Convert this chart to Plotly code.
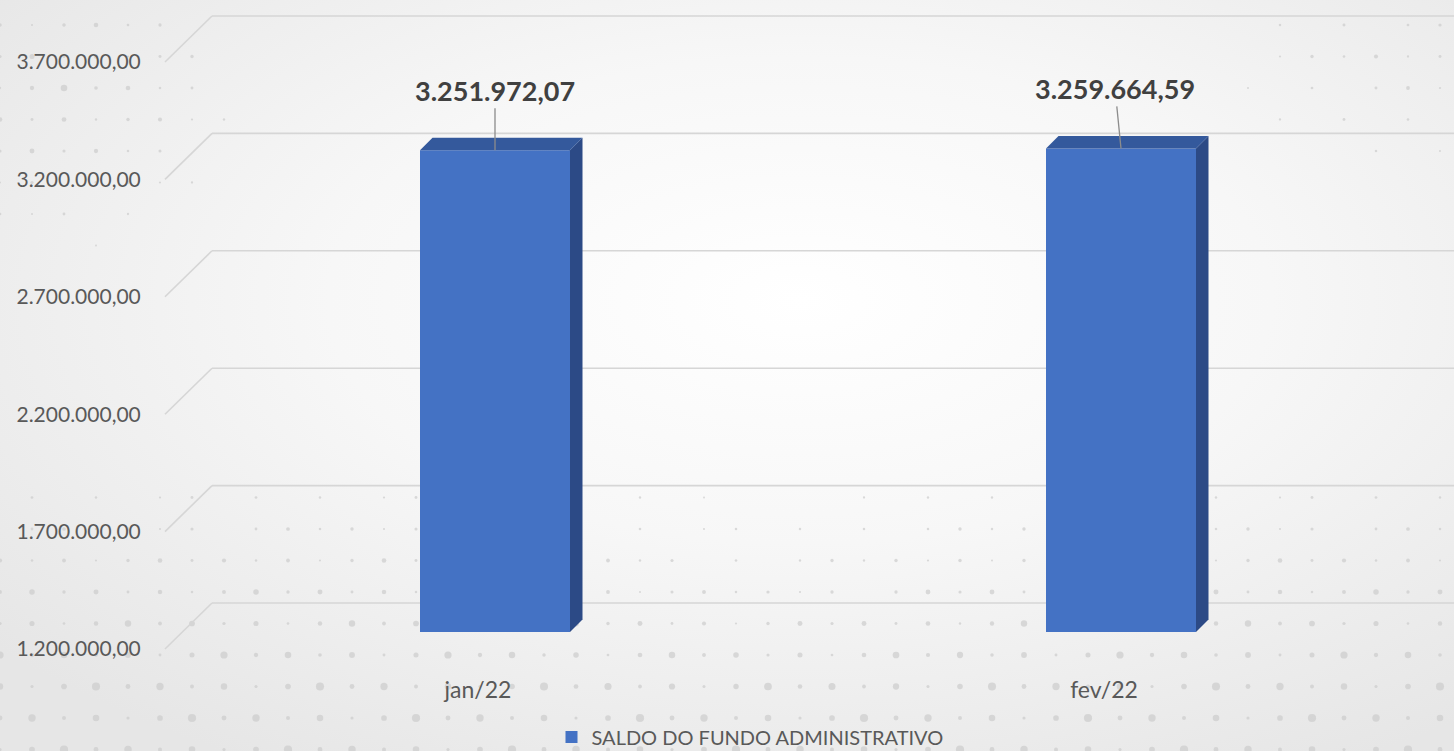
import base64
import math
import plotly.graph_objects as go

# ---------------- data ----------------
categories = ["jan/22", "fev/22"]
saldo = [3251972.07, 3259664.59]
series_name = "SALDO DO FUNDO ADMINISTRATIVO"
y_ticks = [1200000, 1700000, 2200000, 2700000, 3200000, 3700000]

# ---------------- geometry / style ----------------
W, H = 1454, 751
Y_MIN, Y_MAX = 1200000, 3700000
FX0, FX1 = 165, 1417          # front plane (labels) x extent in px
FY_BOT, FY_TOP = 649, 62      # front plane y of Y_MIN / Y_MAX in px
BAR_DX, BAR_DY = 17, 17       # bar plane offset (perspective)
WALL_DX, WALL_DY = 47, 46     # back wall offset
BAR_DEPTH = 12.5              # px depth of bars
BAR_W_PX = 150

FRONT = "#4472C4"
TOP = "#34599C"
SIDE = "#2C4A86"
GRID = "#D6D6D6"
TXT = "#595959"
FONT = "Lato, 'Open Sans', sans-serif"


def px(x):
    return x / W


def py(y):
    return 1 - y / H


def clamp(t):
    return min(max(t, 0.0), 1.0)


n = len(categories)
idx = list(range(n))
unit_x = (FX1 - FX0) / n                      # px per category unit
unit_y = (FY_BOT - FY_TOP) / (Y_MAX - Y_MIN)  # px per value unit
bar_w = BAR_W_PX / unit_x
dx_u = BAR_DEPTH / unit_x
dy_u = BAR_DEPTH / unit_y


def fmt_br(v):
    s = f"{v:,.2f}"
    return s.replace(",", "X").replace(".", ",").replace("X", ".")


# ---------------- background (gradient + dots) ----------------
dots = []
row_y = [655 - 31.5 * k for k in range(-3, 22)]
for i, yy in enumerate(row_y):
    for j in range(0, 47):
        xx = 32 * j
        s_bottom = clamp((yy - 430) / 260) * (1 - 0.5 * clamp(1 - abs(xx - 760) / 260) * clamp((700 - yy) / 120))
        s_tl = 0.8 * clamp(1 - math.hypot(xx - 60, (yy - 90) * 1.2) / 230)
        s_tr = 0.5 * clamp(1 - math.hypot(xx - 1380, (yy - 60) * 1.3) / 200)
        s = max(s_bottom, s_tl, s_tr)
        var = ((i * 37 + j * 17) % 7) / 6
        r = 0.5 + 3.6 * s * (0.3 + 0.7 * var)
        if r > 1.0:
            dots.append(f'<circle cx="{xx}" cy="{yy:.1f}" r="{r:.2f}" fill="#cccccc" fill-opacity="0.7"/>')
svg = (
    f'<svg xmlns="http://www.w3.org/2000/svg" width="{W}" height="{H}" viewBox="0 0 {W} {H}">'
    '<defs><radialGradient id="g" cx="0.55" cy="0.4" r="0.72">'
    '<stop offset="0" stop-color="#ffffff"/><stop offset="0.45" stop-color="#f7f7f7"/>'
    '<stop offset="1" stop-color="#e6e6e6"/></radialGradient></defs>'
    f'<rect width="{W}" height="{H}" fill="url(#g)"/>' + "".join(dots) + "</svg>"
)
bg_src = "data:image/svg+xml;base64," + base64.b64encode(svg.encode()).decode()

fig = go.Figure()

# front faces
fig.add_trace(go.Bar(
    x=idx, y=saldo, width=bar_w, name=series_name,
    marker=dict(color=FRONT, line=dict(width=0)),
    xaxis="x2", yaxis="y2", showlegend=True, hoverinfo="skip",
))

# side and top faces
for i, v in zip(idx, saldo):
    xl, xr = i - bar_w / 2, i + bar_w / 2
    fig.add_trace(go.Scatter(
        x=[xr, xr, xr + dx_u, xr + dx_u, xr],
        y=[Y_MIN, v, v + dy_u, Y_MIN + dy_u, Y_MIN],
        mode="lines", fill="toself", fillcolor=SIDE, line=dict(width=0, color=SIDE),
        xaxis="x2", yaxis="y2", showlegend=False, hoverinfo="skip",
    ))
    fig.add_trace(go.Scatter(
        x=[xl, xr, xr + dx_u, xl + dx_u, xl],
        y=[v, v, v + dy_u, v + dy_u, v],
        mode="lines", fill="toself", fillcolor=TOP, line=dict(width=0, color=TOP),
        xaxis="x2", yaxis="y2", showlegend=False, hoverinfo="skip",
    ))

# invisible trace to anchor front axes
fig.add_trace(go.Scatter(x=idx, y=[Y_MIN] * n, mode="markers", marker=dict(opacity=0),
                         xaxis="x", yaxis="y", showlegend=False, hoverinfo="skip"))

# gridlines (front diagonal + back wall)
shapes = []
for v in y_ticks:
    yf = FY_BOT - (v - Y_MIN) * unit_y
    yb = yf - WALL_DY
    xb = FX0 + WALL_DX
    shapes.append(dict(type="line", xref="paper", yref="paper", layer="below",
                       x0=px(FX0), y0=py(yf), x1=px(xb), y1=py(yb),
                       line=dict(color=GRID, width=1.6)))
    shapes.append(dict(type="line", xref="paper", yref="paper", layer="below",
                       x0=px(xb), y0=py(yb), x1=1, y1=py(yb),
                       line=dict(color=GRID, width=1.6)))

# data labels
label_ax = [0, -6]
annotations = []
for i, v, ax in zip(idx, saldo, label_ax):
    annotations.append(dict(
        x=i, y=v, xref="x2", yref="y2", text=fmt_br(v),
        showarrow=True, arrowhead=0, arrowwidth=1.3, arrowcolor="#8C8C8C",
        ax=ax, ay=-60, standoff=0,
        font=dict(family=FONT, size=27, color="#404040", weight="bold"),
    ))

fig.update_layout(
    width=W, height=H, autosize=False,
    margin=dict(l=0, r=0, t=0, b=0, pad=0, autoexpand=False),
    paper_bgcolor="#eeeeee", plot_bgcolor="rgba(0,0,0,0)",
    separators=",.",
    font=dict(family=FONT, color=TXT),
    images=[dict(source=bg_src, xref="paper", yref="paper", x=0, y=1, sizex=1, sizey=1,
                 sizing="stretch", layer="below", xanchor="left", yanchor="top")],
    shapes=shapes,
    annotations=annotations,
    xaxis=dict(domain=[px(FX0), px(FX1)], range=[-0.5, n - 0.5], anchor="y",
               tickvals=idx, ticktext=categories, showgrid=False, zeroline=False,
               showline=False, ticks="outside", ticklen=20, tickcolor="rgba(0,0,0,0)",
               tickfont=dict(family=FONT, size=23, color=TXT)),
    yaxis=dict(domain=[py(FY_BOT), py(FY_TOP)], range=[Y_MIN, Y_MAX], anchor="x",
               tickvals=y_ticks, tickformat=",.2f", showgrid=False, zeroline=False,
               showline=False, ticks="outside", ticklen=19, tickcolor="rgba(0,0,0,0)",
               tickfont=dict(family=FONT, size=21, color=TXT)),
    xaxis2=dict(domain=[px(FX0 + BAR_DX), px(FX1 + BAR_DX)], range=[-0.5, n - 0.5],
                anchor="y2", visible=False),
    yaxis2=dict(domain=[py(FY_BOT - BAR_DY), py(FY_TOP - BAR_DY)], range=[Y_MIN, Y_MAX],
                anchor="x2", visible=False),
    legend=dict(orientation="h", x=px(750), xanchor="center", y=py(737), yanchor="middle",
                bgcolor="rgba(0,0,0,0)", font=dict(family=FONT, size=20, color=TXT),
                itemclick=False, itemdoubleclick=False),
    showlegend=True,
)

fig.write_html("out.html", config={"displayModeBar": False},
               post_script="document.body.style.margin='0';")
